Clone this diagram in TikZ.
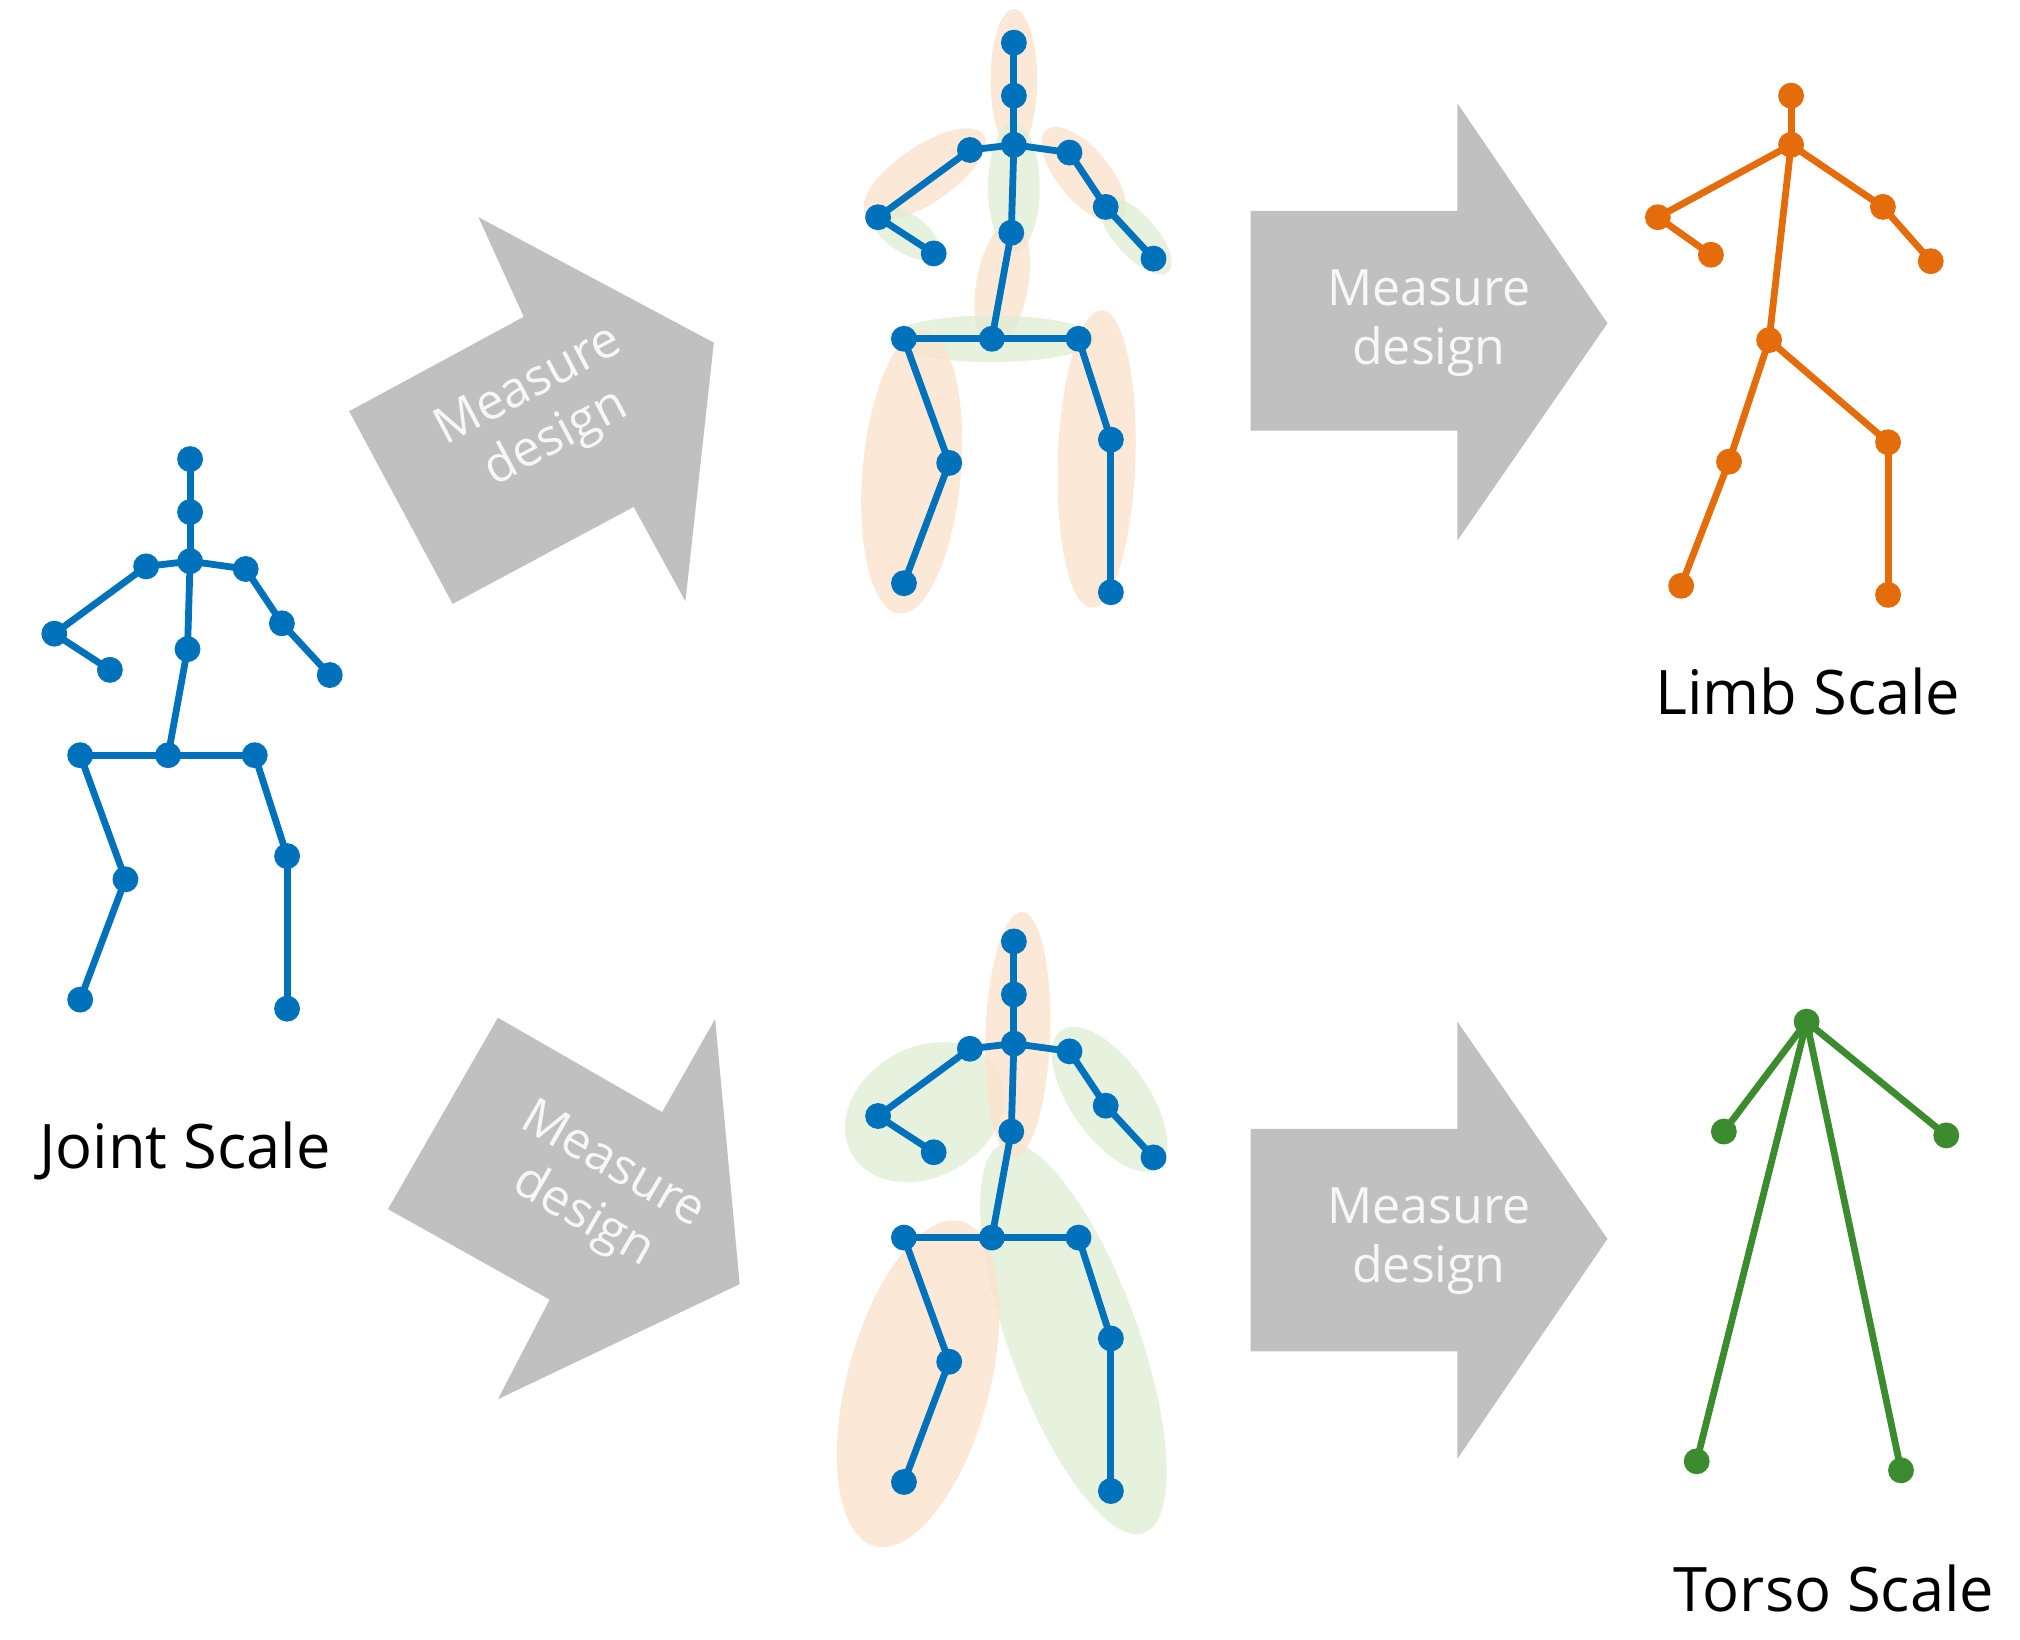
\documentclass[tikz,border=0pt]{standalone}
\usepackage{fontspec}
\setmainfont{Open Sans}
\begin{document}
\definecolor{sblue}{RGB}{0,114,188}
\definecolor{sorange}{RGB}{228,108,10}
\definecolor{sgreen}{RGB}{61,139,47}
\definecolor{eor}{RGB}{251,226,204}
\definecolor{egr}{RGB}{224,238,214}
\definecolor{agray}{RGB}{192,192,192}
\begin{tikzpicture}[x=0.01cm,y=-0.01cm,
  bone/.style={line width=1.5pt,line cap=round},
  jt/.style={circle,inner sep=0pt,minimum size=0.2cm,fill=#1},
  eo/.style={fill=eor,fill opacity=0.8},
  eg/.style={fill=egr,fill opacity=0.8},
  arr/.style={fill=agray},
  mtxt/.style={text=white!94!gray,font=\fontsize{11pt}{13pt}\selectfont,align=center},
  lbl/.style={font=\fontsize{13.5pt}{16pt}\selectfont}]
\useasboundingbox (0,0) rectangle (1562,1268);
% arrows
\fill[arr] (270,318) -- (405,245) -- (370,168) -- (552,265) -- (530,465) -- (490,392) -- (350,467) -- cycle;
\node[mtxt,rotate=28] (m1) at (420,320) {Measure\\design};
\fill[arr] (300,935) -- (385,787) -- (512,860) -- (553,788) -- (572,993) -- (385,1082) -- (425,1005) -- cycle;
\node[mtxt,rotate=-30] (m2) at (462,922) {Measure\\design};
\fill[arr] (967,163) -- (1127,163) -- (1127,80) -- (1243,250) -- (1127,418) -- (1127,333) -- (967,333) -- cycle;
\node[mtxt] (m3) at (1105,250) {Measure\\design};
\fill[arr] (967,873) -- (1127,873) -- (1127,790) -- (1243,958) -- (1127,1128) -- (1127,1045) -- (967,1045) -- cycle;
\node[mtxt] (m4) at (1105,960) {Measure\\design};
% ellipses top
\fill[eo,rotate around={-90:(784,62)}] (784,62) ellipse (55 and 18);
\fill[eo,rotate around={-146:(715,135)}] (715,135) ellipse (55 and 22);
\fill[eg,rotate around={-34:(700,180)}] (700,180) ellipse (30 and 15);
\fill[eo,rotate around={-50:(838,135)}] (838,135) ellipse (45 and 20);
\fill[eg,rotate around={-48:(878,182)}] (878,182) ellipse (38 and 16);
\fill[eg,rotate around={-90:(784,145)}] (784,145) ellipse (50 and 20);
\fill[eo,rotate around={-100:(775,220)}] (775,220) ellipse (50 and 20);
\fill[eg] (767,262) ellipse (80 and 18);
\fill[eo,rotate around={-95:(705,365)}] (705,365) ellipse (110 and 38);
\fill[eo,rotate around={-92:(848,355)}] (848,355) ellipse (115 and 30);
% ellipses bottom
\fill[eg,rotate around={-150:(715,860)}] (715,860) ellipse (65 and 50);
\fill[eg,rotate around={-55:(858,850)}] (858,850) ellipse (65 and 30);
\fill[eg,rotate around={-70:(830,1035)}] (830,1035) ellipse (160 and 50);
\fill[eo,rotate around={-105:(710,1070)}] (710,1070) ellipse (130 and 55);
\fill[eo,rotate around={-92:(787,800)}] (787,800) ellipse (95 and 25);
% blue skeletons
\foreach \pre/\dx/\dy in {j-/0/0, t-/637/-322, b-/637/373}{
\begin{scope}[shift={(\dx,\dy)},name prefix=\pre]
\node[jt=sblue] (hd) at (147,355) {};
\node[jt=sblue] (nk) at (147,396) {};
\node[jt=sblue] (sc) at (147,434) {};
\node[jt=sblue] (ls) at (113,438) {};
\node[jt=sblue] (le) at (42,490) {};
\node[jt=sblue] (lh) at (85,518) {};
\node[jt=sblue] (rs) at (190,440) {};
\node[jt=sblue] (re) at (218,482) {};
\node[jt=sblue] (rh) at (255,522) {};
\node[jt=sblue] (sp) at (145,502) {};
\node[jt=sblue] (hc) at (130,584) {};
\node[jt=sblue] (lp) at (62,584) {};
\node[jt=sblue] (rp) at (197,584) {};
\node[jt=sblue] (lk) at (97,680) {};
\node[jt=sblue] (lf) at (62,773) {};
\node[jt=sblue] (rk) at (222,662) {};
\node[jt=sblue] (rf) at (222,780) {};
\foreach \a/\b in {hd/nk,nk/sc,sc/ls,ls/le,le/lh,sc/rs,rs/re,re/rh,sc/sp,sp/hc,hc/lp,hc/rp,lp/lk,lk/lf,rp/rk,rk/rf}
  \draw[bone,sblue] (\a.center) -- (\b.center);
\end{scope}}
% limb scale
\node[jt=sorange] (lhd) at (1385,74) {};
\node[jt=sorange] (lnk) at (1385,112) {};
\node[jt=sorange] (lle) at (1282,168) {};
\node[jt=sorange] (llh) at (1323,197) {};
\node[jt=sorange] (lre) at (1456,160) {};
\node[jt=sorange] (lrh) at (1493,202) {};
\node[jt=sorange] (lhp) at (1368,263) {};
\node[jt=sorange] (llk) at (1337,357) {};
\node[jt=sorange] (llf) at (1300,453) {};
\node[jt=sorange] (lrk) at (1460,342) {};
\node[jt=sorange] (lrf) at (1460,460) {};
\foreach \a/\b in {lhd/lnk,lnk/lle,lle/llh,lnk/lre,lre/lrh,lnk/lhp,lhp/llk,llk/llf,lhp/lrk,lrk/lrf}
  \draw[bone,sorange] (\a.center) -- (\b.center);
% torso scale
\node[jt=sgreen] (tt) at (1397,790) {};
\node[jt=sgreen] (tl) at (1333,875) {};
\node[jt=sgreen] (tr) at (1505,878) {};
\node[jt=sgreen] (tlf) at (1312,1130) {};
\node[jt=sgreen] (trf) at (1470,1137) {};
\foreach \b in {tl,tr,tlf,trf}
  \draw[bone,sgreen] (tt.center) -- (\b.center);
% labels
\node[lbl] (l1) at (143,890) {Joint Scale};
\node[lbl] (l2) at (1398,535) {Limb Scale};
\node[lbl] (l3) at (1418,1228) {Torso Scale};
\end{tikzpicture}
\end{document}
